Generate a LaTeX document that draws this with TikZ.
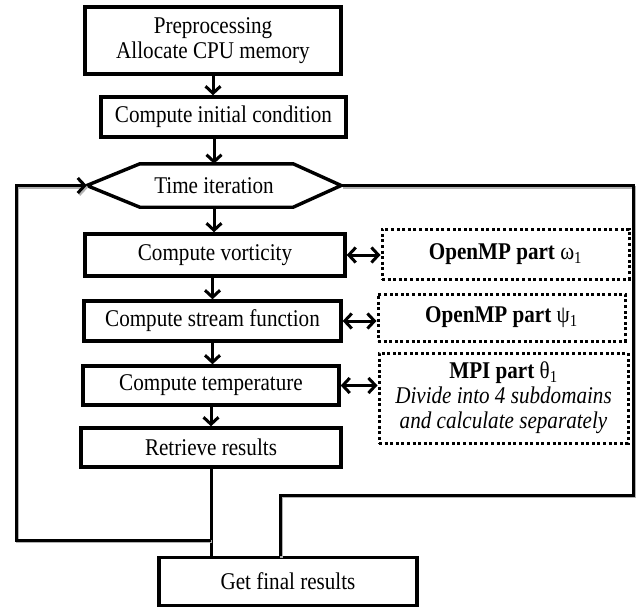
\documentclass[tikz,border=0pt]{standalone}
\usepackage{fontspec}
\setmainfont{Liberation Serif}[FakeStretch=0.88]
\usetikzlibrary{arrows.meta}

\tikzset{
  block/.style={draw, line width=3.4pt, inner sep=0pt, align=center},
  partbox/.style={draw, line width=3pt, dash pattern=on 3pt off 2.6pt, inner sep=0pt, align=center},
  flow/.style={line width=3pt, -{Straight Barb[length=7pt,width=15pt]}},
  twoway/.style={line width=3pt, {Straight Barb[length=7pt,width=15pt]}-{Straight Barb[length=7pt,width=15pt]}},
  loopline/.style={line width=3pt, preaction={draw=gray!60, line width=3pt, transform canvas={shift={(1.4pt,-1.8pt)}}}},
}

\begin{document}
\begin{tikzpicture}[x=1pt, y=-1pt, font=\fontsize{24}{25}\selectfont]
\useasboundingbox (0,0) rectangle (637,608);
% main column
\node[block, minimum width=256, minimum height=67] (pre) at (213,40.5) {Preprocessing\\Allocate CPU memory};
\node[block, minimum width=245, minimum height=40] (init) at (223.5,117) {Compute initial condition};
\node[minimum width=254, minimum height=43, inner sep=0pt] (iter) at (214,185.5) {Time iteration};
\draw[line width=3.4pt, line join=miter] (iter.west) -- ([xshift=53]iter.north west) -- ([xshift=-48]iter.north east)
  -- (iter.east) -- ([xshift=-48]iter.south east) -- ([xshift=53]iter.south west) -- cycle;
\node[block, minimum width=260, minimum height=42] (vort) at (215,255) {Compute vorticity};
\node[block, minimum width=257, minimum height=40] (strm) at (212.5,321) {Compute stream function};
\node[block, minimum width=256, minimum height=39] (temp) at (211,385.5) {Compute temperature};
\node[block, minimum width=260, minimum height=39] (retr) at (211,447.5) {Retrieve results};
\node[block, minimum width=258, minimum height=48] (final) at (288,581.5) {Get final results};
% parallel parts
\node[partbox, minimum width=247, minimum height=50] (ompw) at (505.5,254) {\textbf{OpenMP part} ω\textsubscript{1}};
\node[partbox, minimum width=247, minimum height=47] (omps) at (501.5,317.5) {\textbf{OpenMP part} ψ\textsubscript{1}};
\node[partbox, minimum width=249, minimum height=90] (mpi) at (503.5,398) {\textbf{MPI part} θ\textsubscript{1}\\\textit{Divide into 4 subdomains}\\\textit{and calculate separately}};
% flow
\draw[flow] (pre.south) -- (pre.south |- init.north);
\draw[flow] (iter.north |- init.south) -- (iter.north);
\draw[flow] (iter.south) -- (iter.south |- vort.north);
\draw[flow] (strm.north |- vort.south) -- (strm.north);
\draw[flow] (strm.south) -- (strm.south |- temp.north);
\draw[flow] (temp.south) -- (temp.south |- retr.north);
\draw[twoway] (vort.east) -- (vort.east -| ompw.west);
\draw[twoway] (strm.east) -- (strm.east -| omps.west);
\draw[twoway] (temp.east) -- (temp.east -| mpi.west);
% loop back and exit
\coordinate (lcorner) at (16,540);
\coordinate (rcorner) at (633,495);
\draw[line width=3pt] (retr.south) -- (retr.south |- final.north);
\draw[loopline, -{Straight Barb[length=7pt,width=15pt]}] (retr.south |- lcorner) -- (lcorner) |- (iter.west);
\draw[loopline] (iter.east) -| (rcorner) -| ([xshift=-8]final.north);
\end{tikzpicture}
\end{document}
